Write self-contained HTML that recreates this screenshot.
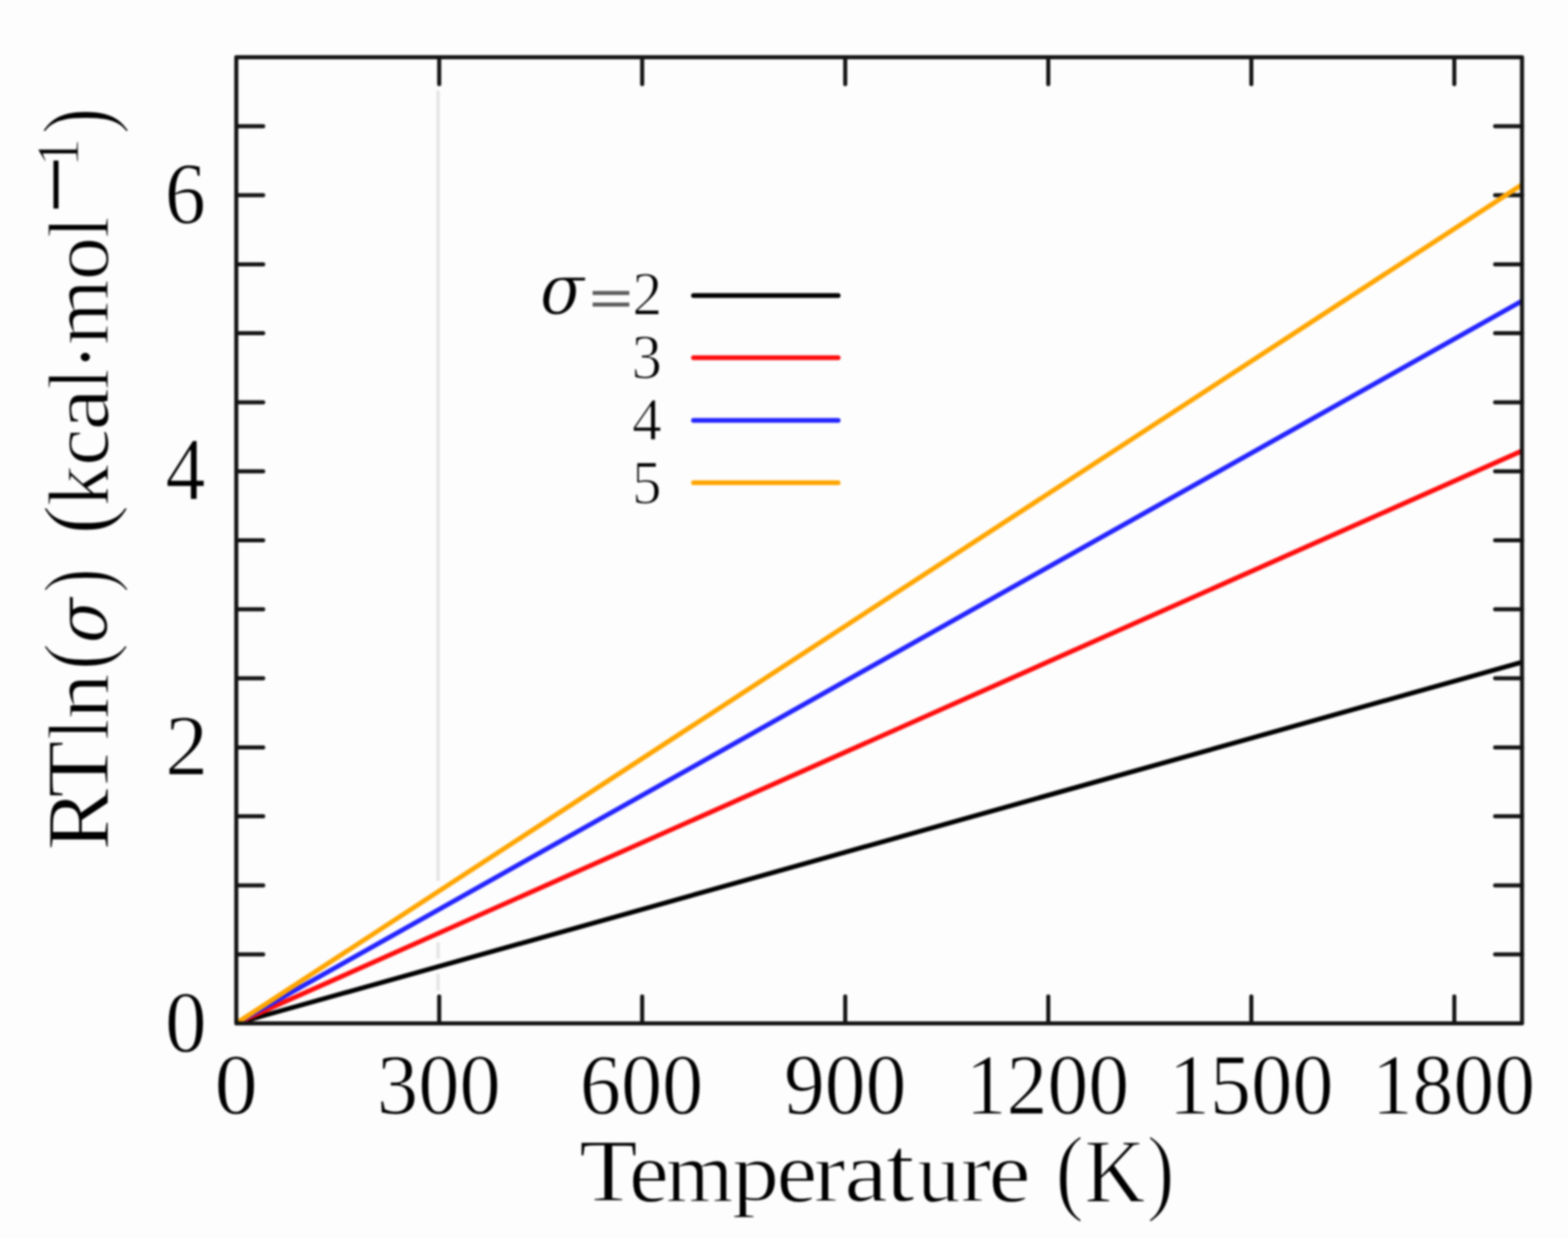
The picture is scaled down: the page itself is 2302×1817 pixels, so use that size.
<!DOCTYPE html>
<html><head><meta charset="utf-8"><title>RTln(sigma) vs Temperature</title><style>
html,body{margin:0;padding:0;background:#fdfdfd;overflow:hidden}
svg{display:block;filter:blur(1.40px)}
text{font-family:"Liberation Serif","DejaVu Serif",serif;fill:#000}
</style></head><body>
<svg width="2302" height="1817" viewBox="0 0 2302 1817">
<rect width="2302" height="1817" fill="#fdfdfd"/>
<line x1="643.2" y1="133" x2="643.2" y2="1293" stroke="#e5e5e5" stroke-width="5"/>
<line x1="643.2" y1="1383" x2="643.2" y2="1407" stroke="#e5e5e5" stroke-width="5"/>
<line x1="643.2" y1="1429" x2="643.2" y2="1454" stroke="#e5e5e5" stroke-width="5"/>
<path d="M346.9 1400.7h39.5M2234.5 1400.7h-39.5M346.9 1299.4h39.5M2234.5 1299.4h-39.5M346.9 1198.1h39.5M2234.5 1198.1h-39.5M346.9 1096.9h39.5M2234.5 1096.9h-39.5M346.9 995.6h39.5M2234.5 995.6h-39.5M346.9 894.3h39.5M2234.5 894.3h-39.5M346.9 793.0h39.5M2234.5 793.0h-39.5M346.9 691.7h39.5M2234.5 691.7h-39.5M346.9 590.4h39.5M2234.5 590.4h-39.5M346.9 489.1h39.5M2234.5 489.1h-39.5M346.9 387.9h39.5M2234.5 387.9h-39.5M346.9 286.6h39.5M2234.5 286.6h-39.5M346.9 185.3h39.5M2234.5 185.3h-39.5M644.8 1502.0v-39.5M644.8 84.0v39.5M942.8 1502.0v-39.5M942.8 84.0v39.5M1240.9 1502.0v-39.5M1240.9 84.0v39.5M1539.0 1502.0v-39.5M1539.0 84.0v39.5M1837.1 1502.0v-39.5M1837.1 84.0v39.5M2135.1 1502.0v-39.5M2135.1 84.0v39.5" stroke="#141414" stroke-width="6.0" stroke-linecap="round" fill="none"/>
<line x1="346.7" y1="1502.0" x2="2234.5" y2="971.8" stroke="#000000" stroke-width="7.0"/>
<line x1="346.7" y1="1502.0" x2="2234.5" y2="661.7" stroke="#ff0d0d" stroke-width="7.0"/>
<line x1="346.7" y1="1502.0" x2="2234.5" y2="441.7" stroke="#2323ff" stroke-width="7.0"/>
<line x1="346.7" y1="1502.0" x2="2234.5" y2="271.0" stroke="#ffa500" stroke-width="7.0"/>
<rect x="346.9" y="84.0" width="1887.6" height="1418.0" fill="none" stroke="#141414" stroke-width="6.0" stroke-linejoin="round"/>
<line x1="1018.1" y1="433.7" x2="1230.5" y2="433.7" stroke="#000000" stroke-width="7.0" stroke-linecap="round"/>
<line x1="1018.1" y1="525.1" x2="1230.5" y2="525.1" stroke="#ff0d0d" stroke-width="7.0" stroke-linecap="round"/>
<line x1="1018.1" y1="616.9" x2="1230.5" y2="616.9" stroke="#2323ff" stroke-width="7.0" stroke-linecap="round"/>
<line x1="1018.1" y1="708.5" x2="1230.5" y2="708.5" stroke="#ffa500" stroke-width="7.0" stroke-linecap="round"/>
<text font-size="200" stroke="#fdfdfd" stroke-width="2.2425" transform="matrix(0.6341 0 0 0.6391 315.0927 1635.3609)">0</text>
<text font-size="200" stroke="#fdfdfd" stroke-width="2.2737" transform="matrix(0.6064 0 0 0.6391 553.3293 1635.3609)">300</text>
<text font-size="200" stroke="#fdfdfd" stroke-width="2.2784" transform="matrix(0.6039 0 0 0.6391 851.3609 1635.3609)">600</text>
<text font-size="200" stroke="#fdfdfd" stroke-width="2.2905" transform="matrix(0.5996 0 0 0.6391 1150.9028 1635.3609)">900</text>
<text font-size="200" stroke="#fdfdfd" stroke-width="2.2849" transform="matrix(0.5995 0 0 0.6391 1417.8102 1635.3609)">1200</text>
<text font-size="200" stroke="#fdfdfd" stroke-width="2.2742" transform="matrix(0.6051 0 0 0.6391 1715.703 1635.3609)">1500</text>
<text font-size="200" stroke="#fdfdfd" stroke-width="2.2849" transform="matrix(0.5995 0 0 0.6391 2013.9102 1635.3609)">1800</text>
<text font-size="200" stroke="#fdfdfd" stroke-width="2.273" transform="matrix(0.6122 0 0 0.6444 242.2902 1544.0556)">0</text>
<text font-size="200" stroke="#fdfdfd" stroke-width="2.2623" transform="matrix(0.6308 0 0 0.6323 242.4923 1136.7323)">2</text>
<text font-size="200" stroke="#fdfdfd" stroke-width="2.2903" transform="matrix(0.5868 0 0 0.6609 243.0659 732.8219)">4</text>
<text font-size="200" stroke="#fdfdfd" stroke-width="2.2848" transform="matrix(0.6012 0 0 0.6492 242.088 327.5508)">6</text>
<text font-size="200" font-style="italic" style="font-family:'DejaVu Serif','Liberation Serif'" stroke="#fdfdfd" stroke-width="2.0461" transform="matrix(0.4762 0 0 0.519 792.8385 461.0619)">σ</text>
<text font-size="200" style="fill:#5e5e5e" stroke="#5e5e5e" stroke-width="4.3588" transform="matrix(0.5526 0 0 0.4093 865.6794 466.4611)">=</text>
<text font-size="200" stroke="#fdfdfd" stroke-width="3.2457" transform="matrix(0.4377 0 0 0.4555 928.6234 462.1109)">2</text>
<text font-size="200" stroke="#fdfdfd" stroke-width="3.1727" transform="matrix(0.445 0 0 0.4623 927.205 555.1)">3</text>
<text font-size="200" stroke="#fdfdfd" stroke-width="3.2804" transform="matrix(0.4348 0 0 0.4445 927.991 645.2891)">4</text>
<text font-size="200" stroke="#fdfdfd" stroke-width="3.2546" transform="matrix(0.4312 0 0 0.4597 928.0948 739.3)">5</text>
<text font-size="200" stroke="#fdfdfd" stroke-width="2.7085" transform="matrix(0.7027 0 0 0.6555 850.2866 1762.6555)">T</text>
<text font-size="200" stroke="#fdfdfd" stroke-width="2.8805" transform="matrix(0.6577 0 0 0.6457 923.3803 1764)">e</text>
<text font-size="200" stroke="#fdfdfd" stroke-width="2.9152" transform="matrix(0.6372 0 0 0.6378 977.5766 1763.2756)">m</text>
<text font-size="200" stroke="#fdfdfd" stroke-width="2.8561" transform="matrix(0.6919 0 0 0.6075 1074.6407 1761.0992)">p</text>
<text font-size="200" stroke="#fdfdfd" stroke-width="2.8442" transform="matrix(0.6746 0 0 0.6457 1140.0282 1764)">e</text>
<text font-size="200" stroke="#fdfdfd" stroke-width="2.8304" transform="matrix(0.6966 0 0 0.6308 1194.7172 1762.6308)">r</text>
<text font-size="200" stroke="#fdfdfd" stroke-width="2.7183" transform="matrix(0.7195 0 0 0.6387 1239.5442 1763.3613)">a</text>
<text font-size="200" stroke="#fdfdfd" stroke-width="2.5705" transform="matrix(0.756 0 0 0.6866 1300.732 1763.3134)">t</text>
<text font-size="200" stroke="#fdfdfd" stroke-width="2.9321" transform="matrix(0.6352 0 0 0.6333 1346.4593 1764)">u</text>
<text font-size="200" stroke="#fdfdfd" stroke-width="2.8845" transform="matrix(0.6707 0 0 0.6308 1410.4466 1762.6308)">r</text>
<text font-size="200" stroke="#fdfdfd" stroke-width="2.7979" transform="matrix(0.6972 0 0 0.6457 1451.1254 1764)">e</text>
<text font-size="200" stroke="#fdfdfd" stroke-width="3.8236" transform="matrix(0.6277 0 0 0.7046 1549.4957 1764.5207)">(</text>
<text font-size="200" stroke="#fdfdfd" stroke-width="2.8615" transform="matrix(0.6157 0 0 0.6677 1592.1903 1763.8354)">K</text>
<text font-size="200" stroke="#fdfdfd" stroke-width="3.8609" transform="matrix(0.6146 0 0 0.7046 1683.4833 1764.5207)">)</text>
<text font-size="200" stroke="#fdfdfd" stroke-width="2.7274" transform="matrix(0 -0.6816 0.6594 0 158.6594 1248.2712)">R</text>
<text font-size="200" stroke="#fdfdfd" stroke-width="2.7319" transform="matrix(0 -0.6866 0.6594 0 158.6594 1170.833)">T</text>
<text font-size="200" stroke="#fdfdfd" stroke-width="3.1616" transform="matrix(0 -0.5727 0.6311 0 159.2622 1086.4364)">l</text>
<text font-size="200" stroke="#fdfdfd" stroke-width="2.8873" transform="matrix(0 -0.6708 0.6121 0 159.2242 1055.6247)">n</text>
<text font-size="200" stroke="#fdfdfd" stroke-width="3.955" transform="matrix(0 -0.5979 0.6914 0 159.1362 983.4766)">(</text>
<text font-size="200" font-style="italic" style="font-family:'DejaVu Serif','Liberation Serif'" stroke="#fdfdfd" stroke-width="2.016" transform="matrix(0 -0.4869 0.5229 0 157.4543 944.0692)">σ</text>
<text font-size="200" stroke="#fdfdfd" stroke-width="4.1922" transform="matrix(0 -0.5426 0.6994 0 159.5221 870.283)">)</text>
<text font-size="200" stroke="#fdfdfd" stroke-width="3.7716" transform="matrix(0 -0.6574 0.6914 0 159.1362 784.5319)">(</text>
<text font-size="200" stroke="#fdfdfd" stroke-width="2.9914" transform="matrix(0 -0.6054 0.6311 0 159.2622 742.9269)">k</text>
<text font-size="200" stroke="#fdfdfd" stroke-width="3.0715" transform="matrix(0 -0.6111 0.6109 0 158.5 683.5)">c</text>
<text font-size="200" stroke="#fdfdfd" stroke-width="2.8465" transform="matrix(0 -0.7026 0.6109 0 158.5 631.8237)">a</text>
<text font-size="200" stroke="#fdfdfd" stroke-width="3.2131" transform="matrix(0 -0.5545 0.6311 0 159.2622 571.7273)">l</text>
<text font-size="200" transform="matrix(0 -0.5304 0.5739 0 163.4913 541.6696)">·</text>
<text font-size="200" stroke="#fdfdfd" stroke-width="3.0003" transform="matrix(0 -0.62 0.6189 0 159.2378 506.62)">m</text>
<text font-size="200" stroke="#fdfdfd" stroke-width="2.99" transform="matrix(0 -0.6341 0.6109 0 158.5 411.2073)">o</text>
<text font-size="200" stroke="#fdfdfd" stroke-width="3.1743" transform="matrix(0 -0.5682 0.6311 0 159.2622 349.4091)">l</text>
<text font-size="200" transform="matrix(0 -0.757 0.75 0 132.25 313.4699)">−</text>
<text font-size="200" stroke="#fdfdfd" stroke-width="3.3706" transform="matrix(0 -0.4194 0.4398 0 114.4797 244.5687)">1</text>
<text font-size="200" stroke="#fdfdfd" stroke-width="3.9608" transform="matrix(0 -0.5854 0.711 0 160.1802 196.8833)">)</text>
</svg></body></html>
